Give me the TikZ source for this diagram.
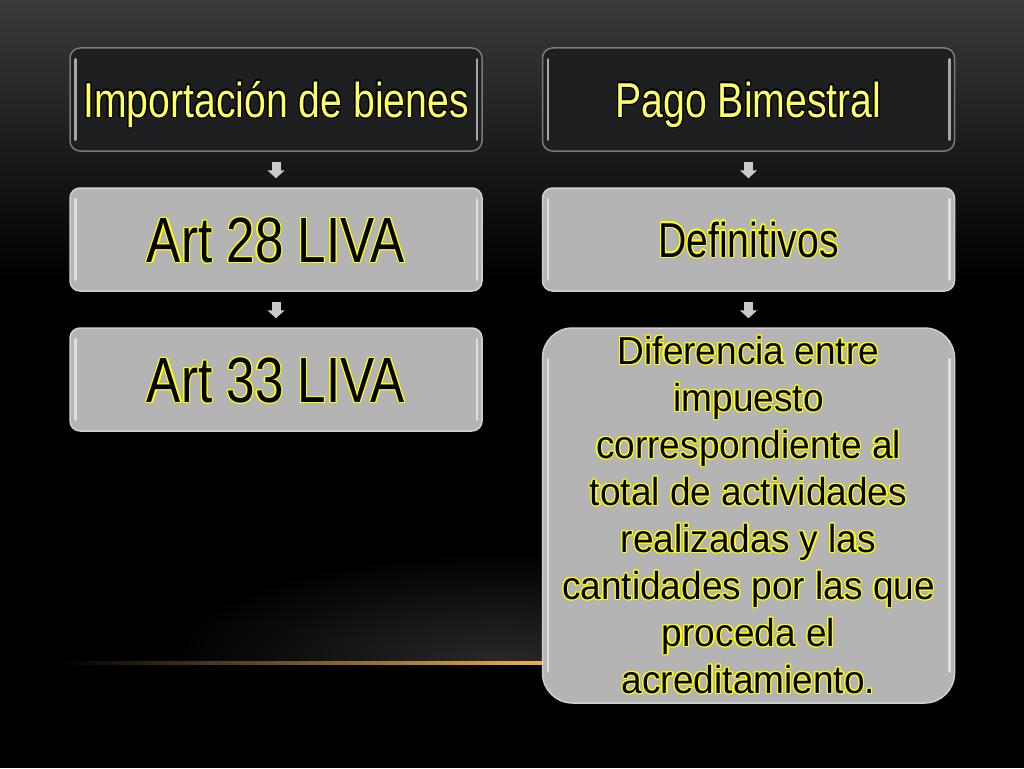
\documentclass[tikz,border=0pt]{standalone}
\usepackage{fontspec}
\setmainfont{Liberation Sans}
\newfontfamily\narrowsans[FakeStretch=0.8]{Liberation Sans}
\newfontfamily\bodysans[FakeStretch=0.95]{Liberation Sans}
\usepackage[copies]{contour}
\contourlength{1.1pt}
\usetikzlibrary{positioning,arrows.meta}

\definecolor{boxdark}{HTML}{1E1F21}
\definecolor{boxgray}{HTML}{B4B4B4}
\definecolor{rimdark}{HTML}{7A7A7A}
\definecolor{rimgray}{HTML}{D0D0D0}
\definecolor{txtyellow}{HTML}{FFFF66}
\definecolor{rimyellow}{HTML}{FFFF00}
\definecolor{bgtop}{HTML}{3A3A3A}
\definecolor{glowline}{HTML}{F2B55A}
\definecolor{arrowgray}{HTML}{C9C9C9}

% Texto amarillo con borde / negro con borde amarillo
\newcommand{\dk}[1]{\textcolor{txtyellow}{\contour{black}{#1}}}
\newcommand{\yl}[1]{\contour{rimyellow}{#1}}

\begin{document}
\begin{tikzpicture}
		[
		x=1pt, y=-1pt, >=latex,
		%Cajas
		darkbox/.style={draw=rimdark, line width=1.5pt, fill=boxdark, rounded corners=10pt,
			minimum width=412pt, minimum height=103pt, inner sep=0pt},
		graybox/.style={draw=rimgray, line width=1.5pt, fill=boxgray, rounded corners=10pt,
			minimum width=412pt, minimum height=103pt, inner sep=0pt},
		midtext/.style={font=\narrowsans\fontsize{49}{59}\selectfont, text height=35pt, text depth=0pt},
		bigtext/.style={font=\narrowsans\fontsize{64}{77}\selectfont, text height=46pt, text depth=0pt},
		flow/.style={-{Triangle[width=17pt,length=8pt]}, line width=9pt, arrowgray,
			shorten <=10pt, shorten >=9pt},
		gloss/.style={line width=2.5pt, line cap=round}
		]
		\useasboundingbox (0,0) rectangle (1024,768);
		
		%Fondo
		\fill[black] (0,0) rectangle (1024,768);
		\shade[top color=bgtop, bottom color=black] (0,0) rectangle (1024,280);
		\begin{scope}
			\clip (0,540) rectangle (1024,663);
			\shade[inner color=gray!32!black, outer color=black] (500,663) ellipse [x radius=330, y radius=110];
		\end{scope}
		\shade[left color=black, right color=glowline] (60,661.5) rectangle (560,664.5);
		
		%Columna izquierda
		\node[darkbox, midtext] (imp) at (276,99.5) {\dk{Importación de bienes}};
		\node[graybox, bigtext, below=35.5pt of imp] (art28) {\yl{Art 28 LIVA}};
		\node[graybox, bigtext, below=35.5pt of art28] (art33) {\yl{Art 33 LIVA}};
		
		%Columna derecha
		\node[darkbox, midtext] (pago) at (748.5,99.5) {\dk{Pago Bimestral}};
		\node[graybox, midtext, below=35.5pt of pago] (defi) {\yl{Definitivos}};
		\node[graybox, below=35.5pt of defi, minimum height=375pt, rounded corners=30pt,
			font=\bodysans\fontsize{39}{47}\selectfont, align=center] (dif)
			{\yl{Diferencia entre}\\\yl{impuesto}\\\yl{correspondiente al}\\\yl{total de actividades}\\
			 \yl{realizadas y las}\\\yl{cantidades por las que}\\\yl{proceda el}\\\yl{acreditamiento.}};
		
		%Brillos laterales
		\foreach \b/\c/\r in {imp/gray!70/10, pago/gray!70/10, art28/white!75!gray/10,
			art33/white!75!gray/10, defi/white!75!gray/10, dif/white!75!gray/30}
		{
			\draw[gloss, color=\c] ([xshift=6pt,yshift=-\r pt-2pt]\b.north west) -- ([xshift=6pt,yshift=\r pt+2pt]\b.south west);
			\draw[gloss, color=\c] ([xshift=-6pt,yshift=-\r pt-2pt]\b.north east) -- ([xshift=-6pt,yshift=\r pt+2pt]\b.south east);
		}
		
		%Flechas
		\draw[flow] (imp) -- (art28);
		\draw[flow] (art28) -- (art33);
		\draw[flow] (pago) -- (defi);
		\draw[flow] (defi) -- (dif);
	\end{tikzpicture}
\end{document}
